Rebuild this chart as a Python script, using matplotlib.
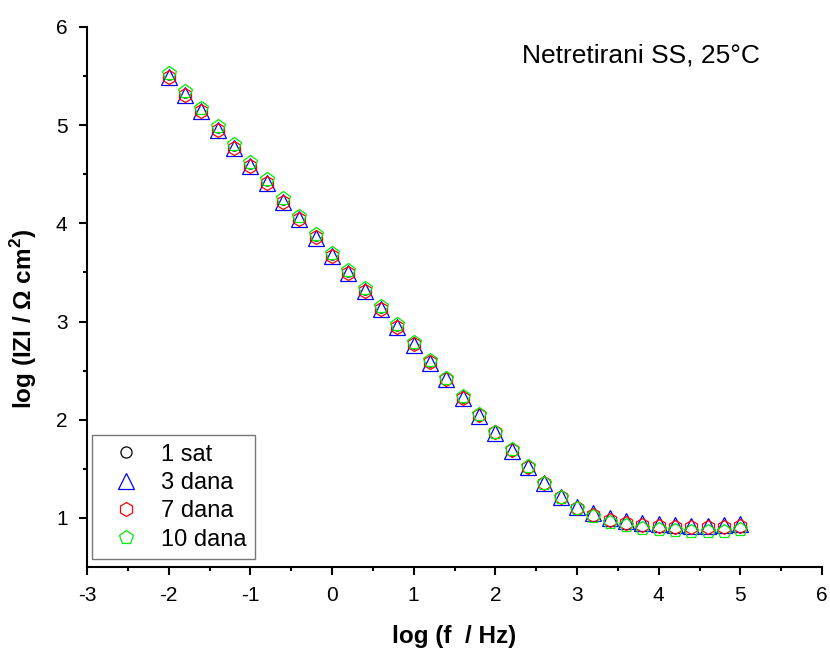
import numpy as np
import matplotlib
matplotlib.use("Agg")
import matplotlib.pyplot as plt

plt.rcParams['font.family'] = ['Liberation Sans', 'DejaVu Sans']
plt.rcParams['axes.unicode_minus'] = False
plt.rcParams['mathtext.fontset'] = 'custom'
plt.rcParams['mathtext.rm'] = 'Liberation Sans'
plt.rcParams['mathtext.bf'] = 'Liberation Sans:bold'

log_f = [-2.0, -1.8, -1.6, -1.4, -1.2, -1.0, -0.8, -0.6, -0.4, -0.2,
         0.0, 0.2, 0.4, 0.6, 0.8, 1.0, 1.2, 1.4, 1.6, 1.8,
         2.0, 2.2, 2.4, 2.6, 2.8, 3.0, 3.2, 3.4, 3.6, 3.8,
         4.0, 4.2, 4.4, 4.6, 4.8, 5.0]

# log |Z| for each exposure time (1 sat is hidden under 10 dana in the original)
z_1sat = [5.52, 5.34, 5.17, 4.98, 4.80, 4.61, 4.44, 4.25, 4.07, 3.88,
          3.69, 3.51, 3.33, 3.15, 2.96, 2.78, 2.60, 2.42, 2.23, 2.05,
          1.87, 1.69, 1.52, 1.36, 1.21, 1.10, 1.02, 0.96, 0.93, 0.90,
          0.89, 0.88, 0.87, 0.87, 0.87, 0.89]
z_3dana = [5.49, 5.31, 5.14, 4.95, 4.77, 4.58, 4.41, 4.22, 4.04, 3.85,
           3.67, 3.49, 3.31, 3.13, 2.94, 2.76, 2.58, 2.41, 2.22, 2.04,
           1.86, 1.685, 1.515, 1.355, 1.21, 1.11, 1.045, 1.00, 0.97, 0.95,
           0.94, 0.93, 0.92, 0.92, 0.93, 0.94]
z_7dana = [5.49, 5.31, 5.14, 4.95, 4.77, 4.58, 4.41, 4.22, 4.04, 3.86,
           3.67, 3.49, 3.31, 3.13, 2.94, 2.77, 2.59, 2.41, 2.22, 2.05,
           1.87, 1.69, 1.52, 1.36, 1.21, 1.10, 1.03, 0.98, 0.95, 0.93,
           0.92, 0.91, 0.91, 0.91, 0.91, 0.92]
z_10dana = [5.53, 5.35, 5.18, 4.99, 4.81, 4.62, 4.45, 4.26, 4.08, 3.89,
            3.70, 3.52, 3.34, 3.16, 2.97, 2.79, 2.61, 2.43, 2.24, 2.06,
            1.88, 1.70, 1.53, 1.36, 1.21, 1.10, 1.02, 0.96, 0.93, 0.90,
            0.89, 0.88, 0.87, 0.87, 0.87, 0.89]

fig = plt.figure(figsize=(8.3, 6.53), dpi=100)
ax = fig.add_axes([87/830, 1 - 567/653, (822-87)/830, (567-27)/653])

mew = 0.9
ax.plot(log_f, z_1sat, 'o', mfc='none', mec='black', ms=8, mew=mew, label='1 sat', zorder=2)
# white pentagon bodies cover the black circles, as in the original
ax.plot(log_f, z_10dana, 'p', mfc='white', mec='none', ms=10.5, zorder=2.1)
ax.plot(log_f, z_3dana, '^', mfc='none', mec='blue', ms=11, mew=mew, label='3 dana', zorder=2.2)
ax.plot(log_f, z_7dana, 'h', mfc='none', mec='red', ms=10, mew=mew, label='7 dana', zorder=2.3)
ax.plot(log_f, z_10dana, 'p', mfc='none', mec='#00ee00', ms=10.5, mew=mew, label='10 dana', zorder=2.4)

ax.set_xlim(-3, 6)
ax.set_ylim(0.5, 6)
ax.set_xticks(range(-3, 7))
ax.set_yticks(range(1, 7))
ax.set_xticks(np.arange(-2.5, 6, 1), minor=True)
ax.set_yticks(np.arange(1.5, 6, 1), minor=True)
ax.spines['top'].set_visible(False)
ax.spines['right'].set_visible(False)
ax.spines['left'].set_linewidth(1.5)
ax.spines['bottom'].set_linewidth(1.5)
ax.tick_params(which='major', direction='out', length=6, width=1.5, labelsize=15, pad=8)
ax.tick_params(which='minor', direction='out', length=3, width=1.5)

ax.set_xlabel('log (f  / Hz)', fontsize=17.5, fontweight='bold')
ax.set_ylabel(r'log (IZI / $\mathbf{\Omega}$ cm$^\mathbf{2}$)', fontsize=17.5, fontweight='bold')
ax.xaxis.set_label_coords(0.5, -0.108)
ax.yaxis.set_label_coords(-0.065, 0.46)

ax.text(0.915, 0.935, 'Netretirani SS, 25°C', transform=ax.transAxes, fontsize=19, ha='right')

leg = ax.legend(loc='lower left', bbox_to_anchor=(0.0068, 0.0148), fontsize=17, frameon=True,
                fancybox=False, edgecolor='#555555', handletextpad=0.4, borderpad=0.35,
                labelspacing=0.27, handlelength=2.17, borderaxespad=0)
leg.get_frame().set_linewidth(1)

fig.savefig('out.png', dpi=100)
